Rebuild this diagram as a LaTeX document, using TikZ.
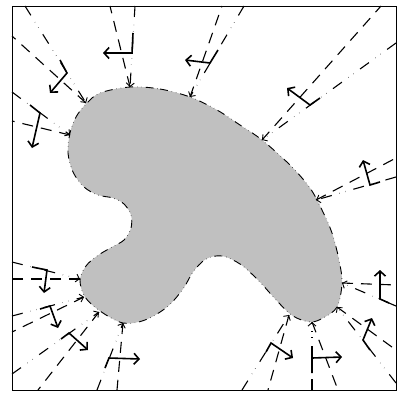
\documentclass[tikz,border=0pt]{standalone}
\usetikzlibrary{arrows.meta}
\definecolor{bodygray}{RGB}{192,192,192}
\tikzset{
  frame/.style={draw=black,line width=0.9pt},
  body/.style={fill=bodygray,draw=black,line width=0.9pt,
    dash pattern=on 8pt off 4pt on 0.3pt off 4pt on 0.3pt off 4pt},
  outray/.style={draw=black,line width=1.1pt,dash pattern=on 11pt off 8pt},
  inray/.style={draw=black,line width=1.1pt,
    dash pattern=on 11pt off 8pt on 0.2pt off 6pt on 0.2pt off 8pt,
    -{Straight Barb[length=3.5pt,width=8pt,line width=0.9pt]}},
  polvec/.style={draw=black,line width=1.6pt,line join=miter,
    -{Straight Barb[length=5pt,width=11pt]}}
}
\begin{document}
\begin{tikzpicture}[x=1pt,y=-1pt]
  \useasboundingbox (0,0) rectangle (401,392);
  % scatterer
  \draw[body] plot[smooth cycle,tension=0.55] coordinates {
    (130,87) (160,89) (190,97) (217,110) (240,125) (262,140) (290,165)
    (310,188) (322,210) (332,233) (339,260) (342,283) (337,307) (323,318)
    (310,322) (293,316) (278,302) (258,280) (240,264) (222,256) (206,259)
    (193,272) (183,289) (167,307) (145,320) (123,323) (100,311) (85,297)
    (80,280) (86,266) (97,256) (112,247) (124,240) (131,228) (131,215)
    (124,204) (113,198) (98,195) (84,187) (73,172) (68,153) (70,133)
    (76,117) (86,104) (100,93)};
  \draw[frame] (12,6) rectangle (396,390);
  % hit points on the boundary
  \coordinate (H1) at (86,103);  \coordinate (H2) at (70,135);
  \coordinate (H3) at (130,87);  \coordinate (H4) at (190,97);
  \coordinate (H5) at (262,140); \coordinate (H6) at (316,200);
  \coordinate (H7) at (342,283); \coordinate (H8) at (337,307);
  \coordinate (H9) at (312,322); \coordinate (H10) at (289,315);
  \coordinate (H11) at (123,323); \coordinate (H12) at (99,312);
  \coordinate (H13) at (84,297); \coordinate (H14) at (80,279);
  % incoming ends on the frame
  \coordinate (I1) at (25,6);    \coordinate (I2) at (12,92);
  \coordinate (I3) at (135,6);   \coordinate (I4) at (244,6);
  \coordinate (I5) at (396,43);  \coordinate (I6) at (396,177);
  \coordinate (I7) at (396,306); \coordinate (I8) at (396,383);
  \coordinate (I9) at (312,390); \coordinate (I10) at (242,390);
  \coordinate (I11) at (97,390); \coordinate (I12) at (12,374);
  \coordinate (I13) at (12,316); \coordinate (I14) at (12,262);
  % outgoing ends on the frame
  \coordinate (O1) at (12,36);   \coordinate (O2) at (12,121);
  \coordinate (O3) at (110,6);   \coordinate (O4) at (222,6);
  \coordinate (O5) at (381,6);   \coordinate (O6) at (396,158);
  \coordinate (O7) at (396,285); \coordinate (O8) at (396,350);
  \coordinate (O9) at (338,390); \coordinate (O10) at (268,390);
  \coordinate (O11) at (117,390); \coordinate (O12) at (38,390);
  \coordinate (O13) at (12,332); \coordinate (O14) at (12,279);
  \foreach \i in {1,...,14}{
    \draw[outray] (H\i) -- (O\i);
    \draw[inray] (I\i) -- (H\i);
  }
  % polarisation vectors
  \draw[polvec] (60,60) -- (67,73) -- (50,93);
  \draw[polvec] (30,105) -- (40,113) -- (32,148);
  \draw[polvec] (133,33) -- (132,53) -- (103,53);
  \draw[polvec] (218,50) -- (210,63) -- (185,60);
  \draw[polvec] (320,98) -- (310,105) -- (287,88);
  \draw[polvec] (380,182) -- (370,185) -- (363,160);
  \draw[polvec] (389,303) -- (380,299) -- (380,270);
  \draw[polvec] (370,350) -- (363,340) -- (372,318);
  \draw[polvec] (312,373) -- (312,358) -- (342,357);
  \draw[polvec] (266,352) -- (271,343) -- (293,358);
  \draw[polvec] (105,368) -- (109,358) -- (140,359);
  \draw[polvec] (61,339) -- (69,333) -- (88,350);
  \draw[polvec] (40,309) -- (50,306) -- (58,328);
  \draw[polvec] (32,267) -- (47,270) -- (44,293);
\end{tikzpicture}
\end{document}
